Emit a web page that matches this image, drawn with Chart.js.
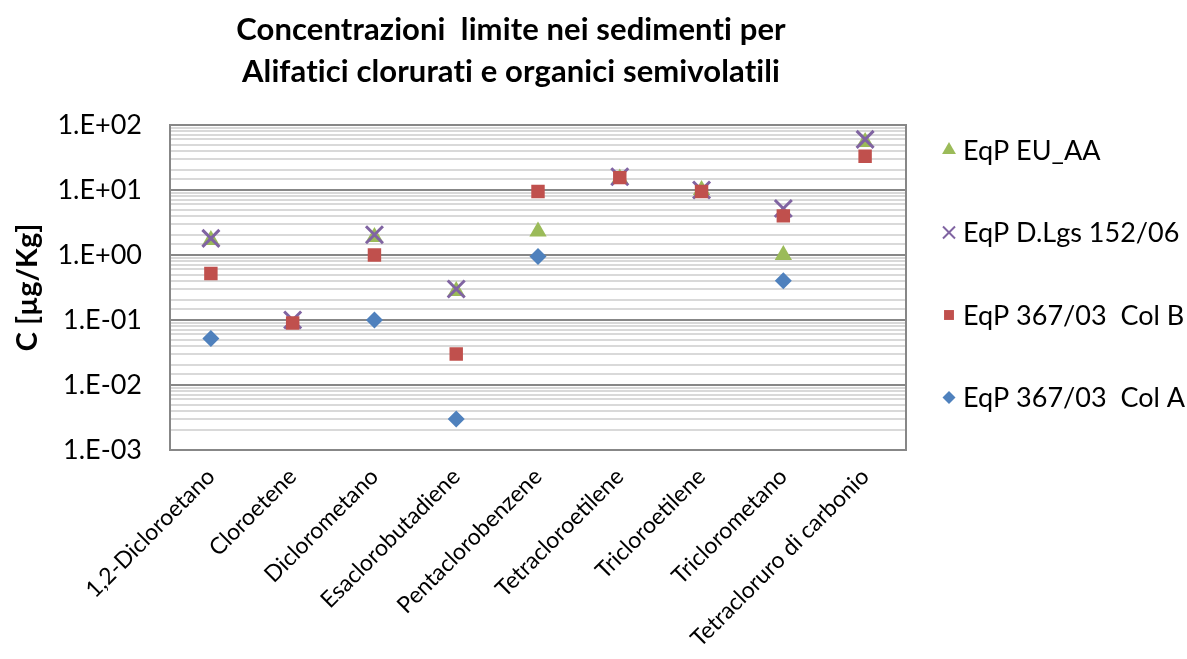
<!DOCTYPE html>
<html><head><meta charset="utf-8">
<script src="https://cdn.jsdelivr.net/npm/chart.js@4.4.1/dist/chart.umd.min.js"></script>
<style>html,body{margin:0;padding:0;background:#fff}</style>
</head><body>
<canvas id="c" width="1187" height="659"></canvas>
<script>
const categories = ['1,2-Dicloroetano','Cloroetene','Diclorometano','Esaclorobutadiene','Pentaclorobenzene','Tetracloroetilene','Tricloroetilene','Triclorometano','Tetracloruro di carbonio'];
const titleLines = ['Concentrazioni  limite nei sedimenti per', 'Alifatici clorurati e organici semivolatili'];
const yTitle = 'C [µg/Kg]';
const eqpEUAA   = [1.7, null, 1.9, 0.28, 2.3, 15, 10, 1.0, 55];
const eqpDLgs   = [1.8, 0.1, 2.05, 0.3, null, 16, 10, 5.2, 60];
const eqpColB   = [0.52, 0.09, 1.0, 0.03, 9.5, 15.5, 9.5, 4.0, 33];
const eqpColA   = [0.052, null, 0.1, 0.003, 0.95, null, null, 0.4, null];
const yMin = 0.001, yMax = 100;

const FONT = 'Lato, "Open Sans", sans-serif';

function fmtTick(v){
  const e = Math.round(Math.log10(v));
  return '1.E' + (e < 0 ? '-' : '+') + String(Math.abs(e)).padStart(2,'0');
}
function isMajor(v){
  const l = Math.log10(v);
  return Math.abs(l - Math.round(l)) < 1e-9;
}

// datasets ordered so the first is drawn on top (square over X over triangle)
const datasets = [
  {label:'EqP 367/03  Col A', data:eqpColA, pointStyle:'rectRot', pointRadius:8.5, backgroundColor:'#4F81BD', borderColor:'#4F81BD', borderWidth:0, legendRadius:6.5},
  {label:'EqP 367/03  Col B', data:eqpColB, pointStyle:'rect', pointRadius:9.5, backgroundColor:'#C0504D', borderColor:'#C0504D', borderWidth:0, legendRadius:7},
  {label:'EqP D.Lgs 152/06', data:eqpDLgs, pointStyle:'crossRot', pointRadius:12, backgroundColor:'#8064A2', borderColor:'#8064A2', borderWidth:3, legendRadius:8.5, legendBorder:2},
  {label:'EqP EU_AA', data:eqpEUAA, pointStyle:'triangle', pointRadius:10, backgroundColor:'#9BBB59', borderColor:'#9BBB59', borderWidth:0, legendRadius:8}
];
datasets.forEach(d => { d.showLine = false; d.pointHoverRadius = d.pointRadius; });

const framePlugin = {
  id:'frame',
  afterDraw(chart){
    const {ctx, chartArea:a} = chart;
    ctx.save();
    ctx.strokeStyle = '#878787';
    ctx.lineWidth = 2;
    ctx.strokeRect(a.left, a.top, a.right - a.left, a.bottom - a.top);
    ctx.restore();
  }
};

const titlePlugin = {
  id:'customTitle',
  afterDraw(chart){
    const ctx = chart.ctx;
    ctx.save();
    ctx.fillStyle = '#000';
    ctx.font = 'bold 31px ' + FONT;
    if ('letterSpacing' in ctx) ctx.letterSpacing = '0.1px';
    ctx.textAlign = 'center';
    ctx.textBaseline = 'alphabetic';
    ctx.fillText(titleLines[0], 511, 40);
    ctx.fillText(titleLines[1], 511, 82);
    ctx.restore();
  }
};

const legendPlugin = {
  id:'customLegend',
  afterDraw(chart){
    const ctx = chart.ctx;
    const ds = chart.data.datasets.slice().reverse();
    const x0 = 949, y0 = 150, step = 82.5;
    ctx.save();
    ds.forEach((d, i) => {
      const y = y0 + i * step;
      ctx.fillStyle = d.backgroundColor;
      ctx.strokeStyle = d.borderColor;
      ctx.lineWidth = d.legendBorder || 0;
      Chart.helpers.drawPoint(ctx, {pointStyle:d.pointStyle, radius:d.legendRadius, rotation:0, borderWidth:d.legendBorder || 0}, x0, y);
      ctx.fillStyle = '#000';
      ctx.font = '27px ' + FONT;
      ctx.textAlign = 'left';
      ctx.textBaseline = 'middle';
      ctx.fillText(d.label, 963, y + 1);
    });
    ctx.restore();
  }
};

new Chart(document.getElementById('c'), {
  type:'line',
  data:{labels:categories, datasets:datasets},
  options:{
    responsive:false,
    animation:false,
    devicePixelRatio:1,
    layout:{padding:{top:125, left:10, right:281, bottom:0}},
    plugins:{legend:{display:false}, title:{display:false}, tooltip:{enabled:false}},
    scales:{
      x:{
        type:'category', offset:true,
        grid:{display:false, drawTicks:false},
        border:{display:false},
        ticks:{color:'#000', font:{family:FONT, size:23}, maxRotation:45, minRotation:45, autoSkip:false, padding:13},
        afterFit(s){ s.height = 209; }
      },
      y:{
        type:'logarithmic', min:yMin, max:yMax,
        border:{display:false},
        grid:{
          drawTicks:false,
          color:(c) => (c.tick && isMajor(c.tick.value)) ? '#878787' : '#d9d9d9',
          lineWidth:2
        },
        ticks:{
          color:'#000', font:{family:FONT, size:27}, padding:28, autoSkip:false,
          callback:(v) => isMajor(v) ? fmtTick(v) : ''
        },
        title:{display:true, text:yTitle, color:'#000', font:{family:FONT, size:29, weight:'bold'}, padding:{top:0, bottom:0}},
        afterFit(s){ s.width = 160; }
      }
    }
  },
  plugins:[framePlugin, titlePlugin, legendPlugin]
});
</script>
</body></html>
